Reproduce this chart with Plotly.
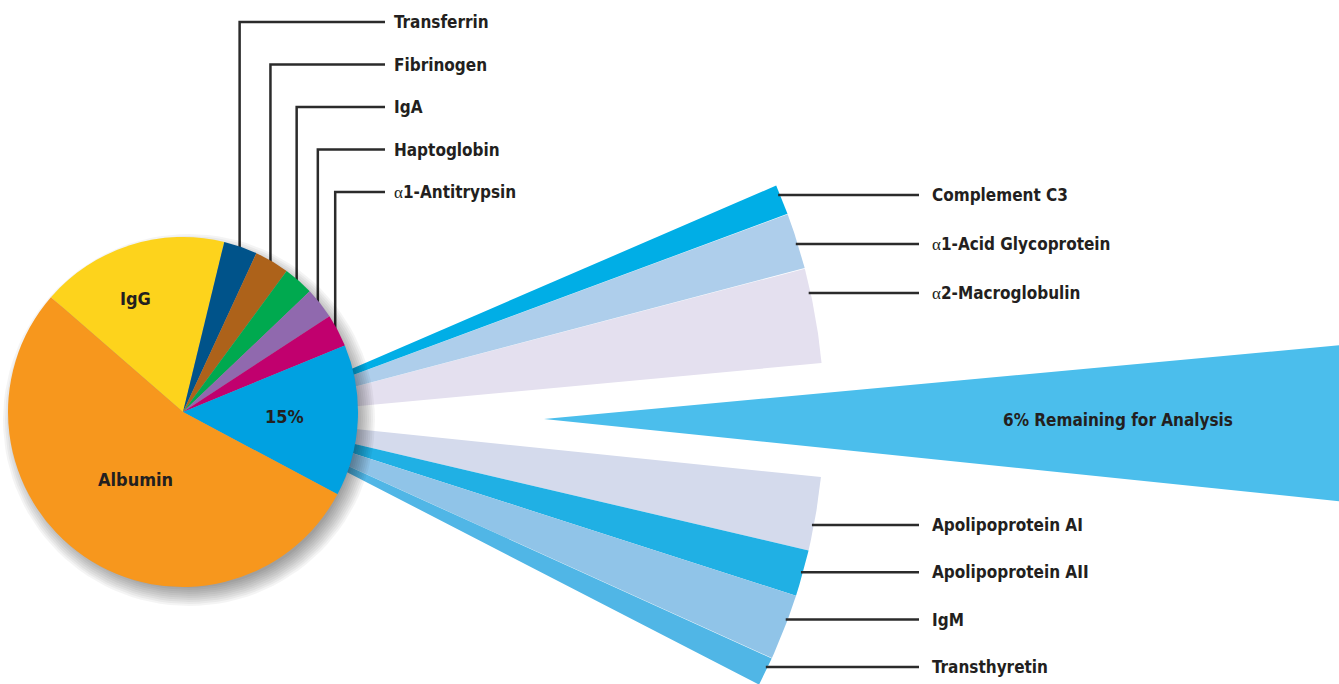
"""
Plasma protein composition: a pie of the major proteins, with the 15% slice
fanned out into the minor proteins and the 6% left over for analysis.
"""

import math

import plotly.graph_objects as go

# main pie, listed clockwise starting at the IgG / Albumin boundary
PIE_LABELS = ["IgG", "Transferrin", "Fibrinogen", "IgA", "Haptoglobin",
              "α1-Antitrypsin", "Other", "Albumin"]
PIE_VALUES = [17.4, 3.1, 3.2, 2.8, 2.9, 3.0, 14.0, 53.6]
PIE_COLORS = ["#FDD31C", "#00538A", "#AD621A", "#00A94F", "#9069AE",
              "#C1006E", "#00A1E1", "#F7971D"]

# slices that get a leader line to a label above the pie
CALLOUT_LABELS = ["Transferrin", "Fibrinogen", "IgA", "Haptoglobin", "α1-Antitrypsin"]

# minor proteins out of the 15% slice (percent of total protein), top to bottom
FAN_TOP_LABELS = ["Complement C3", "α1-Acid Glycoprotein", "α2-Macroglobulin"]
FAN_TOP_VALUES = [0.69, 1.28, 2.15]
FAN_TOP_COLORS = ["#00AEE6", "#AECEEB", "#E4E0EF"]

FAN_BOTTOM_LABELS = ["Apolipoprotein AI", "Apolipoprotein AII", "IgM", "Transthyretin"]
FAN_BOTTOM_VALUES = [1.67, 1.05, 1.50, 0.66]
FAN_BOTTOM_COLORS = ["#D4DAEC", "#20B0E4", "#90C4E8", "#50B6E6"]

REMAINING_PCT = 6
OTHER_PCT = 15

# geometry (pixels, y measured downwards)
W, H = 1339, 684
PIE_CX, PIE_CY, PIE_R = 183, 412, 175
PIE_START_DEG = 139          # math angle where the first slice starts
FAN_X, FAN_Y, FAN_R = 240, 417, 584
DEG_PER_PCT = 4.38
GAP_UP, GAP_DOWN = 5.3, -5.9
REMAIN_X, REMAIN_Y = 544, 419

FONT = "Liberation Sans Narrow, Arial Narrow, DejaVu Sans Condensed, sans-serif"
FONT_SIZE = 17
INK = "#231F20"
LINE = "#2B2B2B"


def greek(text: str) -> str:
    """Set the alpha in a plain serif face like the original artwork."""
    return text.replace(
        "α", '<span style="font-family:Liberation Serif;font-weight:normal">α</span>'
    )


def wedge(cx, cy, r, a0, a1, n=80):
    xs, ys = [cx], [cy]
    for k in range(n + 1):
        a = math.radians(a0 + (a1 - a0) * k / n)
        xs.append(cx + r * math.cos(a))
        ys.append(cy - r * math.sin(a))
    xs.append(cx)
    ys.append(cy)
    return xs, ys


def circle(cx, cy, r, n=120):
    xs = [cx + r * math.cos(2 * math.pi * k / n) for k in range(n + 1)]
    ys = [cy + r * math.sin(2 * math.pi * k / n) for k in range(n + 1)]
    return xs, ys


def label(fig, x, y, text, anchor="left", size=FONT_SIZE):
    fig.add_annotation(
        x=x, y=y, xref="x", yref="y", text=greek(text), showarrow=False,
        xanchor=anchor, yanchor="middle",
        font=dict(family=FONT, size=size, color=INK, weight="bold"),
    )


def fan_angles(values, start, sign):
    """Edges of each fan wedge, walking away from the gap."""
    edges = [start]
    for v in values:
        edges.append(edges[-1] + sign * v * DEG_PER_PCT)
    return edges


def add_fan(fig):
    # top group is listed top->bottom, so build it from the gap upwards
    top_edges = fan_angles(FAN_TOP_VALUES[::-1], GAP_UP, 1)
    top = list(zip(FAN_TOP_LABELS[::-1], FAN_TOP_COLORS[::-1],
                   top_edges[:-1], top_edges[1:]))
    bot_edges = fan_angles(FAN_BOTTOM_VALUES, GAP_DOWN, -1)
    bot = list(zip(FAN_BOTTOM_LABELS, FAN_BOTTOM_COLORS,
                   bot_edges[:-1], bot_edges[1:]))
    for name, color, a0, a1 in top + bot:
        xs, ys = wedge(FAN_X, FAN_Y, FAN_R, a0, a1)
        fig.add_trace(go.Scatter(
            x=xs, y=ys, fill="toself", fillcolor=color, mode="lines",
            line=dict(width=0), name=name, hoverinfo="name",
        ))

    xs, ys = wedge(REMAIN_X, REMAIN_Y, 1000, GAP_DOWN, GAP_UP)
    fig.add_trace(go.Scatter(
        x=xs, y=ys, fill="toself", fillcolor="#4BBEEC", mode="lines",
        line=dict(width=0), name="Remaining", hoverinfo="name",
    ))
    label(fig, 1118, 420, f"{REMAINING_PCT}% Remaining for Analysis", anchor="center")

    # leader lines from the fan's outer arc to the labels
    rows = [(t, 195 + 49 * i) for i, t in enumerate(FAN_TOP_LABELS)]
    rows += [(t, 525 + 47.3 * i) for i, t in enumerate(FAN_BOTTOM_LABELS)]
    for text, y in rows:
        x0 = FAN_X + math.sqrt(FAN_R ** 2 - (y - FAN_Y) ** 2) - 2
        fig.add_trace(go.Scatter(
            x=[x0, 919], y=[y, y], mode="lines",
            line=dict(color=LINE, width=2.5), hoverinfo="skip",
        ))
        label(fig, 930, y, text)


def add_shadow(fig):
    for r in range(168, 188, 2):
        xs, ys = circle(PIE_CX + 6, PIE_CY + 8, r)
        fig.add_trace(go.Scatter(
            x=xs, y=ys, fill="toself", fillcolor="rgba(0,0,0,0.045)",
            mode="lines", line=dict(width=0), hoverinfo="skip",
        ))


def add_pie_callouts(fig):
    total = sum(PIE_VALUES)
    angle = PIE_START_DEG
    mids = {}
    for name, v in zip(PIE_LABELS, PIE_VALUES):
        span = 360 * v / total
        mids[name] = angle - span / 2
        angle -= span
    for i, name in enumerate(CALLOUT_LABELS):
        a = math.radians(mids[name])
        x = PIE_CX + (PIE_R - 3) * math.cos(a)
        y0 = PIE_CY - (PIE_R - 3) * math.sin(a)
        y = 22 + 42.5 * i
        fig.add_trace(go.Scatter(
            x=[x, x, 385], y=[y0, y, y], mode="lines",
            line=dict(color=LINE, width=2.5), hoverinfo="skip",
        ))
        label(fig, 392, y, name)


def main():
    fig = go.Figure()
    add_fan(fig)
    add_pie_callouts(fig)
    add_shadow(fig)

    fig.add_trace(go.Pie(
        labels=PIE_LABELS, values=PIE_VALUES, sort=False,
        direction="clockwise", rotation=90 - PIE_START_DEG,
        marker=dict(colors=PIE_COLORS, line=dict(width=0)),
        textinfo="none", showlegend=False,
        domain=dict(
            x=[(PIE_CX - PIE_R) / W, (PIE_CX + PIE_R) / W],
            y=[(H - PIE_CY - PIE_R) / H, (H - PIE_CY + PIE_R) / H],
        ),
    ))

    label(fig, 135, 298, "IgG", anchor="center", size=18)
    label(fig, 135, 479, "Albumin", anchor="center", size=18)
    label(fig, 284, 416, f"{OTHER_PCT}%", anchor="center", size=18)

    fig.update_layout(
        width=W, height=H, margin=dict(l=0, r=0, t=0, b=0),
        paper_bgcolor="white", plot_bgcolor="white", showlegend=False,
        xaxis=dict(range=[0, W], visible=False, fixedrange=True),
        yaxis=dict(range=[H, 0], visible=False, fixedrange=True),
    )
    fig.write_html(
        "out.html",
        config={"displayModeBar": False},
        post_script="document.body.style.margin='0';",
    )


if __name__ == "__main__":
    main()
